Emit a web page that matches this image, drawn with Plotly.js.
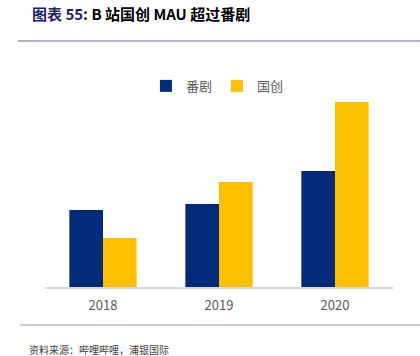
<!DOCTYPE html>
<html>
<head>
<meta charset="utf-8">
<script src="https://cdn.plot.ly/plotly-3.0.1.min.js"></script>
<style>html,body{margin:0;padding:0;background:#fff;}#chart{width:420px;height:356px;}</style>
</head>
<body>
<div id="chart"></div>
<script>
const years = ['2018', '2019', '2020'];
const fanju = [77, 83, 116];
const guochuang = [49, 105, 185];
const seriesNames = ['番剧', '国创'];

const cjk = '"Noto Sans CJK SC", "Noto Sans", sans-serif';

const traces = [
  {type: 'bar', x: years, y: fanju, name: seriesNames[0], marker: {color: '#002B7A'}, hoverinfo: 'none'},
  {type: 'bar', x: years, y: guochuang, name: seriesNames[1], marker: {color: '#FFC000'}, hoverinfo: 'none'}
];

const layout = {
  width: 420, height: 356,
  margin: {l: 45, r: 27, t: 67, b: 69},
  paper_bgcolor: '#fff', plot_bgcolor: '#fff',
  barmode: 'group', bargap: 0.42, bargroupgap: 0,
  showlegend: true,
  legend: {orientation: 'h', x: 0.29, xanchor: 'left', y: 0.914, yanchor: 'middle',
           font: {family: cjk, size: 13, color: '#595959'}, itemwidth: 30, traceorder: 'normal'},
  xaxis: {type: 'category', range: [-0.5, 2.5], showline: true, linecolor: '#D9D9D9', linewidth: 1.5,
          ticks: '', showgrid: false, tickfont: {family: cjk, size: 13, color: '#595959'}, ticklabelstandoff: 6},
  yaxis: {range: [0, 220], visible: false, showgrid: false, zeroline: false},
  shapes: [
    {type: 'line', xref: 'paper', yref: 'paper', x0: -0.078, x1: 1.08, y0: 1.118, y1: 1.118, line: {color: '#9A9ABF', width: 1.5}},
    {type: 'line', xref: 'paper', yref: 'paper', x0: -0.072, x1: 1.08, y0: -0.173, y1: -0.173, line: {color: '#B8B8D8', width: 1.5}}
  ],
  annotations: [
    {xref: 'paper', yref: 'paper', x: -0.044, y: 1.245, xanchor: 'left', yanchor: 'middle', showarrow: false,
     text: '<b><span style="color:#1F2070">图表 55</span>: B 站国创 MAU 超过番剧</b>',
     font: {family: cjk, size: 15, color: '#000'}},
    {xref: 'paper', yref: 'paper', x: -0.052, y: -0.285, xanchor: 'left', yanchor: 'middle', showarrow: false,
     text: '资料来源：哔哩哔哩，浦银国际', font: {family: cjk, size: 10, color: '#404040'}}
  ]
};

Plotly.newPlot('chart', traces, layout, {displayModeBar: false, staticPlot: true});
</script>
</body>
</html>
